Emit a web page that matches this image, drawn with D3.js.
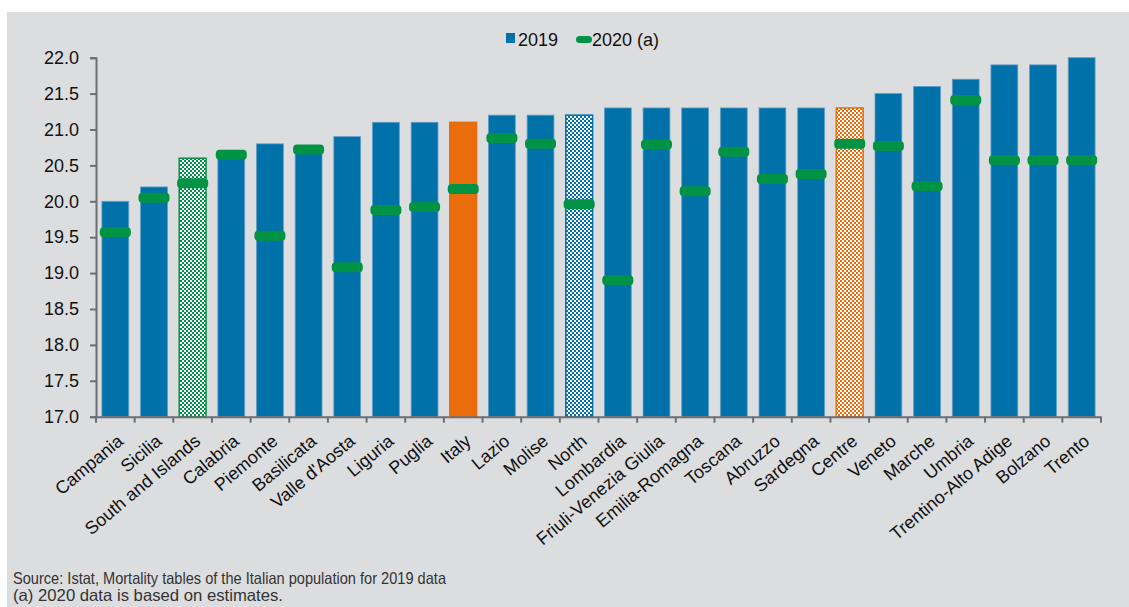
<!DOCTYPE html>
<html>
<head>
<meta charset="utf-8">
<script src="https://cdn.jsdelivr.net/npm/d3@7"></script>
<style>
  html, body { margin: 0; padding: 0; background: #ffffff; }
  svg { display: block; font-family: "Liberation Sans", Arial, sans-serif; }
</style>
</head>
<body>
<svg id="chart" width="1129" height="607"></svg>
<script>
const categories = ["Campania","Sicilia","South and Islands","Calabria","Piemonte","Basilicata","Valle d'Aosta","Liguria","Puglia","Italy","Lazio","Molise","North","Lombardia","Friuli-Venezia Giulia","Emilia-Romagna","Toscana","Abruzzo","Sardegna","Centre","Veneto","Marche","Umbria","Trentino-Alto Adige","Bolzano","Trento"];
const values2019 = [20.0,20.2,20.6,20.7,20.8,20.7,20.9,21.1,21.1,21.1,21.2,21.2,21.2,21.3,21.3,21.3,21.3,21.3,21.3,21.3,21.5,21.6,21.7,21.9,21.9,22.0];
const values2020 = [19.57,20.05,20.25,20.65,19.52,20.72,19.08,19.88,19.92,20.17,20.88,20.8,19.96,18.9,20.79,20.14,20.69,20.31,20.38,20.8,20.77,20.21,21.41,20.57,20.57,20.57];
const barKinds = ["plain","plain","south","plain","plain","plain","plain","plain","plain","italy","plain","plain","north","plain","plain","plain","plain","plain","plain","centre","plain","plain","plain","plain","plain","plain"];
const yTicks = [17.0,17.5,18.0,18.5,19.0,19.5,20.0,20.5,21.0,21.5,22.0];
const seriesNames = ["2019","2020 (a)"];
const footnotes = ["Source: Istat, Mortality tables of the Italian population for 2019 data","(a) 2020 data is based on estimates."];

const BLUE = "#0071a9", GREEN = "#009245", ORANGE = "#ea6c0a";

const svg = d3.select("#chart");
svg.append("rect").attr("x", 7).attr("y", 12).attr("width", 1122).attr("height", 595).attr("fill", "#dcdddf");

const defs = svg.append("defs");
function checker(id, color) {
  const p = defs.append("pattern").attr("id", id).attr("patternUnits", "userSpaceOnUse")
    .attr("width", 4).attr("height", 4);
  p.append("rect").attr("width", 4).attr("height", 4).attr("fill", "#ffffff");
  p.append("rect").attr("x", 0).attr("y", 0).attr("width", 2).attr("height", 2).attr("fill", color);
  p.append("rect").attr("x", 2).attr("y", 2).attr("width", 2).attr("height", 2).attr("fill", color);
}
checker("patGreen", GREEN);
checker("patBlue", BLUE);
checker("patOrange", ORANGE);

const x = d3.scaleBand().domain(categories).range([96, 1101]).paddingInner(0.28).paddingOuter(0.14);
const y = d3.scaleLinear().domain([17, 22]).range([416.7, 57.7]);

const fillFor = { plain: BLUE, italy: ORANGE, south: "url(#patGreen)", north: "url(#patBlue)", centre: "url(#patOrange)" };
const strokeFor = { plain: "#5f9fc8", italy: ORANGE, south: GREEN, north: BLUE, centre: ORANGE };

const data = categories.map((c, i) => ({ c, v19: values2019[i], v20: values2020[i], kind: barKinds[i] }));

svg.append("g").selectAll("rect").data(data).join("rect")
  .attr("x", d => x(d.c) + 0.5)
  .attr("y", d => y(d.v19))
  .attr("width", x.bandwidth() - 1)
  .attr("height", d => y(17) - y(d.v19))
  .attr("fill", d => fillFor[d.kind])
  .attr("stroke", d => strokeFor[d.kind])
  .attr("stroke-width", d => d.kind === "plain" ? 0.8 : 1.5);

const dashW = 31, dashH = 10;
svg.append("g").selectAll("rect").data(data).join("rect")
  .attr("x", d => x(d.c) + x.bandwidth() / 2 - dashW / 2)
  .attr("y", d => y(d.v20) - dashH / 2)
  .attr("width", dashW).attr("height", dashH)
  .attr("rx", 4).attr("ry", 4)
  .attr("fill", GREEN);

// Y axis
const yAxis = d3.axisLeft(y).tickValues(yTicks).tickFormat(d3.format(".1f")).tickSize(6).tickPadding(11);
const gy = svg.append("g").attr("transform", "translate(96,0)").call(yAxis);
gy.select(".domain").attr("stroke", "#6d6e71").attr("stroke-width", 2);
gy.selectAll(".tick line").attr("stroke", "#6d6e71").attr("stroke-width", 2);
gy.selectAll(".tick text").attr("font-size", 18).attr("fill", "#111").attr("font-family", "Liberation Sans, Arial, sans-serif");

// X axis
const xAxis = d3.axisBottom(x).tickSize(0).tickFormat("");
const gx = svg.append("g").attr("transform", "translate(0,416.7)").call(xAxis);
gx.select(".domain").attr("stroke", "#6d6e71").attr("stroke-width", 2);
gx.selectAll(".tick").remove();
const step = x.step();
const boundaries = d3.range(categories.length + 1).map(i => 96 + i * step);
gx.selectAll("line.bt").data(boundaries).join("line").attr("class", "bt")
  .attr("x1", d => d).attr("x2", d => d).attr("y1", 0).attr("y2", 6)
  .attr("stroke", "#6d6e71").attr("stroke-width", 2);

svg.append("g").selectAll("text").data(categories).join("text")
  .attr("transform", c => `translate(${x(c) + x.bandwidth() / 2 + 9},443) rotate(-40)`)
  .attr("text-anchor", "end")
  .attr("font-size", 18)
  .attr("fill", "#111")
  .text(c => c);

// Legend
const lg = svg.append("g");
lg.append("rect").attr("x", 506).attr("y", 33).attr("width", 9).attr("height", 10).attr("fill", BLUE);
lg.append("text").attr("x", 518).attr("y", 46).attr("font-size", 18).attr("fill", "#111").text(seriesNames[0]);
lg.append("rect").attr("x", 576).attr("y", 36).attr("width", 16).attr("height", 7).attr("rx", 3.5).attr("fill", GREEN);
lg.append("text").attr("x", 592).attr("y", 46).attr("font-size", 18).attr("fill", "#111").text(seriesNames[1]);

// Footnotes
const footLens = [433, 270];
svg.append("g").selectAll("text").data(footnotes).join("text")
  .attr("x", 13).attr("y", (d, i) => 584 + i * 17)
  .attr("font-size", 16.5)
  .attr("textLength", (d, i) => footLens[i])
  .attr("lengthAdjust", "spacingAndGlyphs")
  .attr("fill", "#333")
  .text(d => d);
</script>
</body>
</html>
